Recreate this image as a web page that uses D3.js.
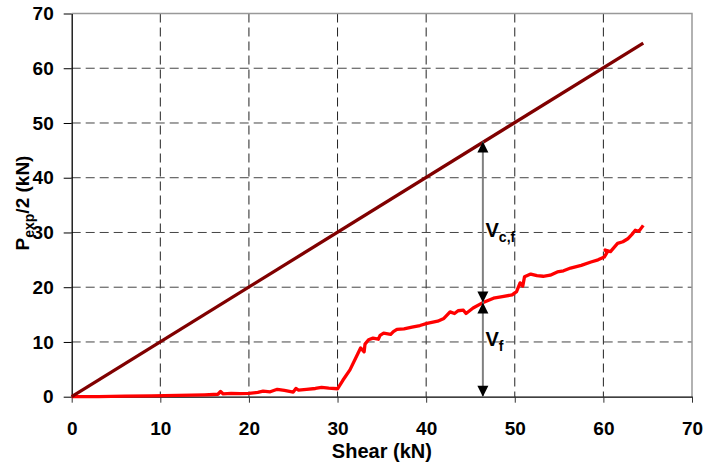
<!DOCTYPE html>
<html><head><meta charset="utf-8">
<script src="https://cdn.jsdelivr.net/npm/d3@7"></script>
<style>body{margin:0;background:#fff}svg{display:block}text{font-family:"Liberation Sans",Arial,sans-serif;font-weight:bold}</style>
</head><body><svg id="c" width="704" height="465"></svg>
<script>
const xTicks = [0,10,20,30,40,50,60,70];
const yTicks = [0,10,20,30,40,50,60,70];
const lineShear = [0, 64.5];
const lineLoad = [0, 64.6];
const shear = [0,3,6,9,12,15,16.5,16.8,17.1,18,19,20,21,21.6,22.4,23.2,24,25,25.3,25.6,26.5,27.5,28.2,29,30,30.6,31.4,32.6,33.0,33.1,33.5,34.0,34.6,34.8,35.2,36.0,36.3,36.7,37.5,38.4,39.3,40.1,41.3,42.0,42.7,43.2,43.6,44.2,44.5,45.3,46.3,47.6,48.6,49.7,50.2,50.6,50.9,51.1,51.8,52.5,53.2,54.0,54.8,55.5,56.3,57.5,58.6,59.4,60.1,60.4,60.2,60.8,61.6,62.2,62.8,63.2,63.6,64.0,64.5];
const load = [0,0,0.1,0.15,0.25,0.35,0.45,0.95,0.5,0.6,0.55,0.6,0.8,1.0,0.9,1.35,1.15,0.85,1.5,1.2,1.35,1.5,1.7,1.55,1.45,3.0,4.9,8.9,8.2,9.6,10.4,10.7,10.5,11.2,11.6,11.4,11.9,12.3,12.4,12.7,13.0,13.4,13.8,14.3,15.5,15.2,15.7,15.8,15.2,16.2,17.1,18.0,18.3,18.6,19.2,20.8,20.2,21.9,22.4,22.1,22.0,22.2,22.8,23.0,23.5,24.0,24.6,25.0,25.5,26.3,26.8,26.5,28.0,28.3,28.9,29.6,30.4,30.2,31.3];
const arrowX = 46.4;
const arrowLevels = [0, 17.2, 46.6];
const labelVcf = {x: 46.7, y: 29.1};
const labelVf = {x: 46.7, y: 9.3};

const svg = d3.select("#c");
const L = 71.7, R = 692, T = 13.5, B = 396.7;
const x = d3.scaleLinear().domain([0,70]).range([L,R]);
const y = d3.scaleLinear().domain([0,70]).range([B,T]);

// grid
svg.append("g").selectAll("line").data(xTicks.filter(d=>d>0&&d<70)).join("line")
  .attr("x1",d=>x(d)).attr("x2",d=>x(d)).attr("y1",T).attr("y2",B)
  .attr("stroke","#222").attr("stroke-width",1).attr("stroke-dasharray","9,5");
svg.append("g").selectAll("line").data(yTicks.filter(d=>d>0&&d<70)).join("line")
  .attr("x1",L).attr("x2",R).attr("y1",d=>y(d)).attr("y2",d=>y(d))
  .attr("stroke","#444").attr("stroke-width",1).attr("stroke-dasharray","9,5");
// border top/right
svg.append("path").attr("d",`M${L},${T}H${R}V${B}`).attr("fill","none").attr("stroke","#999").attr("stroke-width",1.5);

// axes
const xa = svg.append("g").attr("transform",`translate(0,${B})`)
  .call(d3.axisBottom(x).tickValues(xTicks).tickSize(6).tickPadding(19).tickSizeOuter(0));
const ya = svg.append("g").attr("transform",`translate(${L},0)`)
  .call(d3.axisLeft(y).tickValues(yTicks).tickSize(8).tickPadding(10).tickSizeOuter(0));
[xa,ya].forEach(a=>{
  a.select(".domain").attr("stroke","#000").attr("stroke-width",1.3);
  a.selectAll(".tick line").attr("stroke","#000").attr("stroke-width",1);
  a.selectAll(".tick text").attr("font-size",19).attr("fill","#000")
   .attr("font-family",'"Liberation Sans",Arial,sans-serif').attr("font-weight","bold");
});
xa.selectAll(".tick line").attr("stroke","#333");

// axis titles
svg.append("text").attr("x",(L+R)/2).attr("y",458).attr("text-anchor","middle").attr("font-size",20).text("Shear (kN)");
const yt = svg.append("text").attr("transform","translate(29,203) rotate(-90)").attr("text-anchor","middle").attr("font-size",19);
yt.append("tspan").text("P");
yt.append("tspan").attr("font-size",14).attr("dy",5).text("exp");
yt.append("tspan").attr("dy",-5).text("/2 (kN)");

// series
const line = d3.line().x(d=>x(d[0])).y(d=>y(d[1]));
svg.append("path").datum(shear.map((s,i)=>[s,load[i]])).attr("d",line)
  .attr("fill","none").attr("stroke","#ff0000").attr("stroke-width",3.3).attr("stroke-linejoin","round");
svg.append("path").datum(lineShear.map((s,i)=>[s,lineLoad[i]])).attr("d",line)
  .attr("fill","none").attr("stroke","#800000").attr("stroke-width",3.3);

// arrows
const ax = x(arrowX);
svg.append("line").attr("x1",ax).attr("x2",ax).attr("y1",y(arrowLevels[2])).attr("y2",y(arrowLevels[0]))
  .attr("stroke","#808080").attr("stroke-width",2);
function head(tipY, dir){ // dir -1 = up, 1 = down
  const h=11, w=5.5;
  svg.append("path").attr("d",`M${ax},${tipY}L${ax-w},${tipY-dir*h}L${ax+w},${tipY-dir*h}Z`).attr("fill","#000");
}
head(y(arrowLevels[2]),-1);
head(y(arrowLevels[1]),1);
head(y(arrowLevels[1]),-1);
head(y(arrowLevels[0]),1);

function vlab(p, sub){
  const t = svg.append("text").attr("x",x(p.x)).attr("y",y(p.y)).attr("font-size",20);
  t.append("tspan").text("V");
  t.append("tspan").attr("font-size",14).attr("dy",5).text(sub);
}
vlab(labelVcf,"c,f");
vlab(labelVf,"f");
</script></body></html>
